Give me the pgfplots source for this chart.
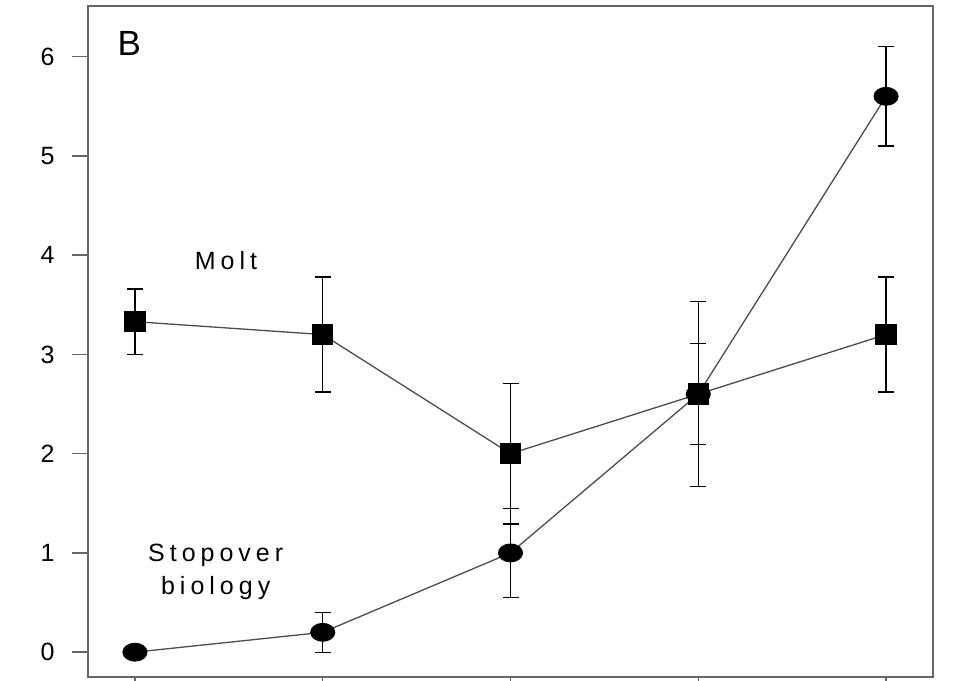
\documentclass[border=0pt]{standalone}
\usepackage{pgfplots}
\pgfplotsset{compat=1.18}
\usepackage{fontspec}
\setmainfont{Liberation Sans}
\begin{document}
\begin{tikzpicture}
\begin{axis}[name=ax, scale only axis, width=845pt, height=671pt,
  xmin=0.75, xmax=5.25, ymin=-0.25, ymax=6.51,
  xtick={1,2,3,4,5}, xticklabels={}, ytick={0,1,2,3,4,5,6},
  xtick pos=left, ytick pos=left,
  tick align=outside, major tick length=16pt,
  axis line style={line width=1.5pt, black!60},
  tick style={line width=1.5pt, black!60},
  tick label style={font=\fontsize{25}{30}\selectfont},
  yticklabel style={xshift=-14pt},
  /pgf/number format/assume math mode=true,
  clip=false]
% Molt
\addplot[line width=1.3pt, black!70, mark=square*, mark size=10pt,
  mark options={black, solid},
  error bars/.cd, y dir=both, y explicit,
  error bar style={line width=1.3pt, black},
  error mark options={rotate=90, mark size=8pt, line width=1.3pt, black}]
  coordinates {
  (1,3.33) +- (0,0.33)
  (2,3.20) +- (0,0.58)
  (3,2.00) +- (0,0.71)
  (4,2.60) +- (0,0.93)
  (5,3.20) +- (0,0.58)
  };
% Stopover biology
\addplot[line width=1.3pt, black!70, mark=*, mark size=8.8pt,
  mark options={black, solid, xscale=1.35},
  error bars/.cd, y dir=both, y explicit,
  error bar style={line width=1.3pt, black},
  error mark options={rotate=90, mark size=8pt, line width=1.3pt, black}]
  coordinates {
  (1,0.00) +- (0,0.00)
  (2,0.20) +- (0,0.20)
  (3,1.00) +- (0,0.45)
  (4,2.60) +- (0,0.51)
  (5,5.60) +- (0,0.50)
  };
\node[font=\fontsize{35}{40}\selectfont] at (axis cs:0.97,6.13) {B};
\node[font=\fontsize{25}{30}\selectfont\addfontfeature{LetterSpace=20}] at (axis cs:1.485,3.95) {Molt};
\node[font=\fontsize{25}{33}\selectfont\addfontfeature{LetterSpace=20}, align=center] at (axis cs:1.43,0.81) {Stopover\\biology};
\end{axis}
\pgfresetboundingbox
\path[use as bounding box] ([xshift=-88pt,yshift=-3pt]ax.south west) rectangle ([xshift=24pt,yshift=6pt]ax.north east);
\end{tikzpicture}
\end{document}
